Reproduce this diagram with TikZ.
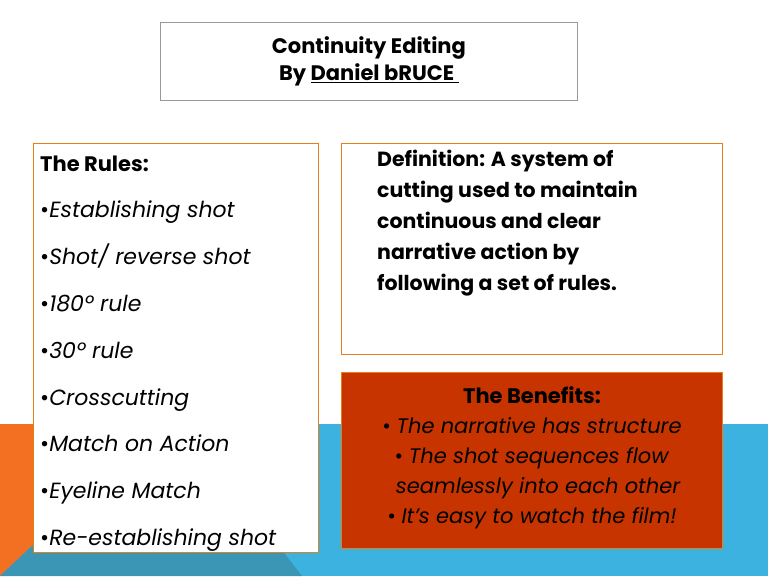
\documentclass[tikz,border=0pt]{standalone}
\usepackage{fontspec}
\setmainfont{Poppins}
\definecolor{bgorange}{HTML}{F36F21}
\definecolor{bgblue}{HTML}{3CB2E0}
\definecolor{bgteal}{HTML}{3A96B4}
\definecolor{benred}{HTML}{C83400}
\begin{document}
\begin{tikzpicture}[x=1pt,y=-1pt,
  box/.style={draw=black!40,line width=0.8pt,fill=white},
  txt/.style={anchor=base west,inner sep=0pt,font=\fontsize{22}{28}\selectfont}]
\useasboundingbox (0,0) rectangle (768,576);
\fill[white] (0,0) rectangle (768,576);
\fill[bgblue] (0,424) rectangle (768,576);
\fill[bgorange] (0,424) -- (60,424) -- (60,545) -- (33,545) -- (0,576) -- cycle;
\fill[bgteal] (0,576) -- (33,545) -- (278,545) -- (302,576) -- cycle;
\node[box,minimum width=417,minimum height=78,anchor=north west] (title) at (160,22) {};
\node[align=center,font=\bfseries\fontsize{21}{27}\selectfont] (tt) at (title.center) {Continuity Editing\\By \underline{Daniel bRUCE\ }};
\node[box,draw=orange!60!brown,minimum width=285,minimum height=409,anchor=north west] (rules) at (33,143) {};
\node[txt,font=\bfseries\fontsize{21}{28}\selectfont] (r0) at (40,171) {The Rules:};
\foreach \t [count=\i] in {Establishing shot,Shot/ reverse shot,180º rule,30º rule,Crosscutting,Match on Action,Eyeline Match,Re-establishing shot}
  \node[txt] (r\i) at (40,171+46.8*\i) {•\textit{\t}};
\node[box,draw=orange!60!brown,minimum width=381,minimum height=211,anchor=north west] (def) at (341,143) {};
\node[anchor=north west,align=left,inner sep=0pt,font=\bfseries\fontsize{20.5}{31}\selectfont] (dt) at (377,150) {Definition: A system of\\cutting used to maintain\\continuous and clear\\narrative action by\\following a set of rules.};
\node[draw=orange!60!brown,fill=benred,minimum width=381,minimum height=176,anchor=north west] (ben) at (341,372) {};
\node[align=center,inner sep=0pt,anchor=north,font=\fontsize{21}{30}\selectfont] (bt) at (532,386) {\textbf{The Benefits:}\\• \textit{The narrative has structure}\\• \textit{The shot sequences flow}\\\textit{\ \ seamlessly into each other}\\• \textit{It’s easy to watch the film!}};
\end{tikzpicture}
\end{document}
